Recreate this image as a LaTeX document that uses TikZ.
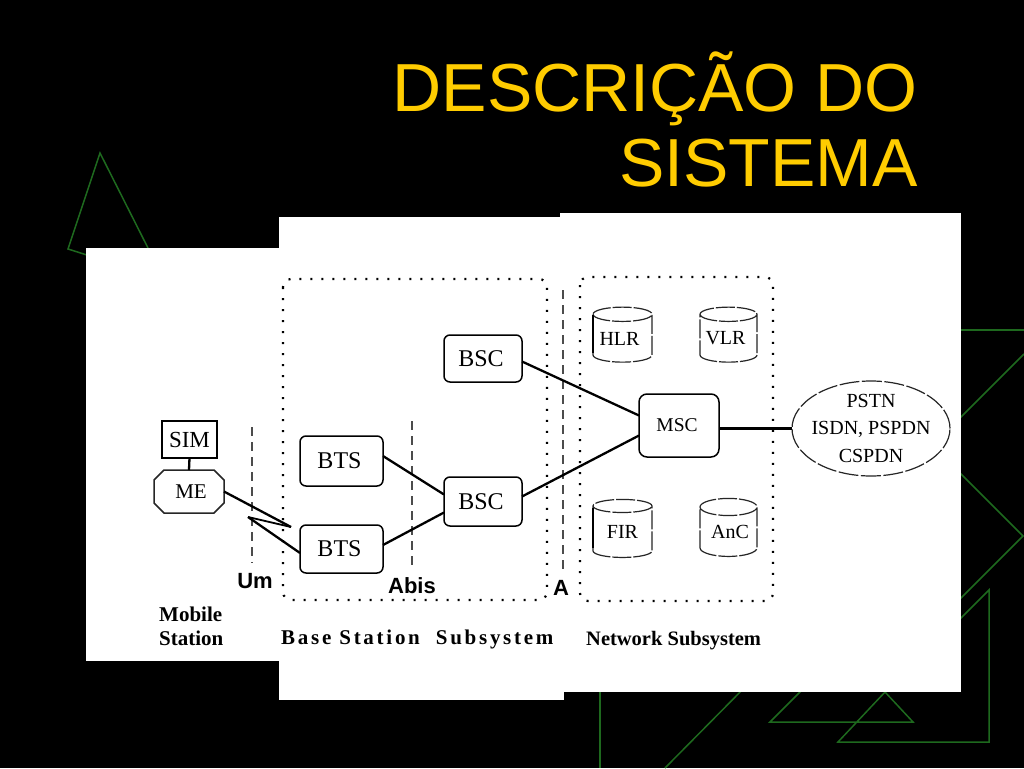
\documentclass[tikz,border=0pt]{standalone}
\usepackage{fontspec}
\setmainfont{Liberation Serif}
\setsansfont{Liberation Sans}
\usetikzlibrary{shapes.misc,shapes.geometric}
\definecolor{deco}{RGB}{30,105,30}
\definecolor{titlegold}{RGB}{255,204,0}
\newcommand{\fsz}[2]{\fontsize{#1}{#2}\selectfont}
\tikzset{
  decoline/.style={draw=deco,line width=1.5pt},
  sheet/.style={fill=white,draw=none},
  box/.style={draw=black,line width=1.5pt,rectangle,rounded corners=6pt,inner sep=0pt,outer sep=0pt,font=\fsz{24}{24}},
  mebox/.style={draw=black!85,line width=1.5pt,chamfered rectangle,chamfered rectangle xsep=5pt,chamfered rectangle ysep=5pt,inner sep=0pt,outer sep=0pt,font=\fsz{21}{21}},
  plainbox/.style={draw=black,line width=1.5pt,rectangle,inner sep=0pt,outer sep=0pt,font=\fsz{23}{23}},
  db/.style={draw=black!85,line width=1.2pt,cylinder,shape border rotate=90,aspect=0.42,inner sep=0pt,outer sep=0pt,font=\fsz{20}{20},dash pattern=on 19pt off 2pt},
  dbedge/.style={draw=black,line width=2.2pt},
  cloud/.style={draw=black!85,line width=1.2pt,ellipse,inner sep=0pt,outer sep=0pt,dash pattern=on 20pt off 2.5pt,minimum width=158pt,minimum height=95pt},
  link/.style={draw=black,line width=2.3pt},
  trunk/.style={draw=black,line width=3.5pt},
  iface/.style={draw=black!70,line width=1.5pt,dash pattern=on 9pt off 6pt},
  region/.style={draw=black,line width=2.2pt,dash pattern=on 2pt off 9pt,rounded corners=8pt},
  tag/.style={font=\sffamily\bfseries\fsz{22}{22},inner sep=0pt},
  caption/.style={font=\bfseries\fsz{21}{24},inner sep=0pt},
}
\begin{document}
\begin{tikzpicture}[x=1pt,y=-1pt]
\useasboundingbox (0,0) rectangle (1024,768);
\fill[black] (0,0) rectangle (1024,768);
% green decoration
\draw[decoline] (148,248) -- (100,153) -- (68,249) -- (90,256);
\draw[decoline] (950,330) -- (1024,330);
\draw[decoline] (950,428) -- (1024,354);
\draw[decoline] (950,463) -- (1023,536) -- (950,609);
\draw[decoline] (950,629) -- (989,590) -- (989,742) -- (838,742) -- (885,692) -- (913,722) -- (770,722) -- (810,682);
\draw[decoline] (600,680) -- (600,768);
\draw[decoline] (750,682) -- (665,768);
% white sheets
\fill[sheet] (86,248) rectangle (300,661);
\fill[sheet] (279,217) rectangle (564,700);
\fill[sheet] (560,213) rectangle (961,692);
% title
\node[anchor=south east,inner sep=0pt,align=right,text=titlegold,font=\sffamily\fsz{68}{75}] (title) at (918,187.5) {DESCRIÇÃO DO\\SISTEMA};
% regions
\draw[region] (283,279) rectangle (547,600);
\draw[region] (580,277) rectangle (773,601);
% interface lines
\coordinate (umtop) at (252,427); \coordinate (umbot) at (252,563);
\coordinate (abistop) at (412,421); \coordinate (abisbot) at (412,568);
\coordinate (atop) at (563,290); \coordinate (abot) at (563,570);
\draw[iface] (umtop) -- (umbot);
\draw[iface] (abistop) -- (abisbot);
\draw[iface] (atop) -- (abot);
% nodes
\node[plainbox,minimum width=55pt,minimum height=37pt] (sim) at (189.5,439.5) {SIM};
\node[mebox,minimum width=70pt,minimum height=43pt] (me) at (189,491.5) {\hspace*{4pt}ME};
\node[box,minimum width=83pt,minimum height=50pt] (bts1) at (341.5,461) {\hspace*{-4pt}BTS};
\node[box,minimum width=83pt,minimum height=48pt] (bts2) at (341.5,549) {\hspace*{-4pt}BTS};
\node[box,minimum width=78pt,minimum height=47pt] (bsc1) at (483,358.5) {\hspace*{-4pt}BSC};
\node[box,minimum width=78pt,minimum height=49pt] (bsc2) at (483,501.5) {\hspace*{-4pt}BSC};
\node[box,font=\fsz{19.5}{20},minimum width=80pt,minimum height=63pt,rounded corners=8pt] (msc) at (679,425.5) {\hspace*{-4pt}MSC};
\node[db,minimum width=59pt,minimum height=55pt] (hlr) at (622.5,338.5) {\hspace*{-6pt}HLR};
\node[db,minimum width=57pt,minimum height=55pt] (vlr) at (728.5,338.5) {\hspace*{-6pt}VLR};
\node[db,minimum width=59pt,minimum height=58pt] (eir) at (622.5,532) {FIR};
\node[db,minimum width=57pt,minimum height=58pt] (auc) at (728.5,532) {\hspace*{3pt}AnC};
\node[cloud] (net) at (871,428.5) {};
\node[font=\fsz{20}{27.5},inner sep=0pt,align=center] (nettext) at (871,428) {PSTN\\ISDN, PSPDN\\CSPDN};
% connectors
\coordinate (zigA) at (291,527);
\coordinate (zigB) at (248,517);
\draw[dbedge] ([yshift=24pt]hlr.west) -- ([yshift=-14pt]hlr.west);
\draw[dbedge] ([yshift=24pt]eir.west) -- ([yshift=-16pt]eir.west);
\draw[link] (sim.south) -- (me.north);
\draw[link] (me.east) -- (zigA);
\draw[draw=black,line width=1.8pt] (zigA) -- (zigB);
\draw[link] (zigB) -- ([yshift=-4pt]bts2.west);
\draw[link] ([yshift=5pt]bts1.east) -- ([yshift=7pt]bsc2.west);
\draw[link] ([yshift=4pt]bts2.east) -- ([yshift=-11pt]bsc2.west);
\draw[link] ([yshift=-3pt]bsc1.east) -- ([yshift=10pt]msc.west);
\draw[link] ([yshift=5pt]bsc2.east) -- ([yshift=-10pt]msc.west);
\draw[trunk] (msc.east |- net.west) -- (net.west);
% labels
\node[tag] (um) at (255,581) {Um};
\node[tag] (abis) at (412,586) {Abis};
\node[tag] (alabel) at (561,588) {A};
\node[caption,anchor=west,align=left] (ms) at (159,626) {Mobile\\Station};
\node[caption,anchor=west] (bss) at (281,639) {\addfontfeature{LetterSpace=13}Base Station\hspace{8pt} Subsystem};
\node[caption,font=\bfseries\fsz{20.5}{24},anchor=west] (nss) at (586,641) {Network Subsystem};
\end{tikzpicture}
\end{document}
